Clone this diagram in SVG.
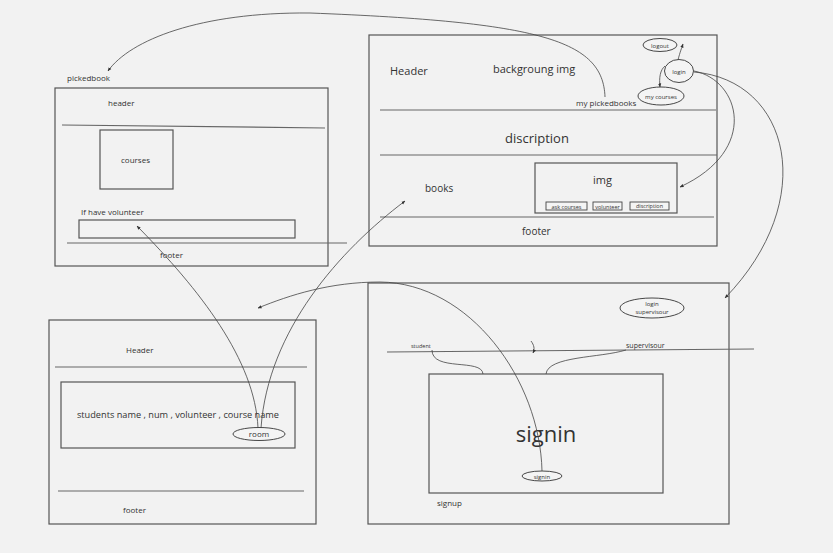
<svg xmlns="http://www.w3.org/2000/svg" width="833" height="553" viewBox="0 0 833 553">
<defs>
<marker id="ah" viewBox="0 0 10 10" refX="9" refY="5" markerWidth="5" markerHeight="5" orient="auto"><path d="M0,1 L10,5 L0,9 z" fill="#333"/></marker>
</defs>
<style>
.box{fill:none;stroke:#555;stroke-width:1.2}
.ln{fill:none;stroke:#666;stroke-width:1.2}
.cn{fill:none;stroke:#444;stroke-width:0.8}
.el{fill:#f4f4f4;stroke:#333;stroke-width:0.9}
text{font-family:"Open Sans","Liberation Sans",sans-serif;fill:#333}
.btn{fill:#f4f4f4;stroke:#444;stroke-width:0.9}
</style>
<rect width="833" height="553" fill="#f2f2f2"/>
<g id="pickedbook">
<text x="67" y="81" font-size="8">pickedbook</text>
<rect class="box" x="55" y="88" width="273" height="178"/>
<text x="108" y="106" font-size="8">header</text>
<line class="ln" x1="62" y1="125" x2="325" y2="128"/>
<rect class="box" x="100" y="130" width="73" height="59"/>
<text x="121" y="163" font-size="8">courses</text>
<text x="81" y="215" font-size="8">If have volunteer</text>
<rect class="box" x="79" y="220" width="216" height="18"/>
<line class="ln" x1="67" y1="243" x2="347" y2="243"/>
<text x="160" y="258" font-size="8">footer</text>
</g>
<g id="mainpage">
<rect class="box" x="369" y="35" width="348" height="211"/>
<text x="390" y="75" font-size="11">Header</text>
<text x="493" y="73" font-size="11">backgroung img</text>
<text x="576" y="106" font-size="8">my pickedbooks</text>
<line class="ln" x1="380" y1="110" x2="716" y2="110"/>
<text x="505" y="143" font-size="13">discription</text>
<line class="ln" x1="380" y1="155" x2="717" y2="155"/>
<text x="425" y="192" font-size="10">books</text>
<rect class="box" x="535" y="163" width="142" height="50"/>
<text x="593" y="184" font-size="11">img</text>
<rect class="btn" x="546" y="202" width="41" height="8"/>
<text x="566.5" y="208.5" font-size="5.5" text-anchor="middle">ask courses</text>
<rect class="btn" x="593" y="202" width="29" height="8"/>
<text x="607.5" y="208.5" font-size="5.5" text-anchor="middle">volunteer</text>
<rect class="btn" x="630" y="202" width="39" height="8"/>
<text x="649.5" y="208" font-size="5.5" text-anchor="middle" fill="#7a3030">discription</text>
<line class="ln" x1="380" y1="217" x2="714" y2="217"/>
<text x="522" y="235" font-size="10">footer</text>
</g>
<g id="logout"><ellipse class="el" cx="660" cy="45" rx="17" ry="6.5"/><text x="660" y="47.5" font-size="6" text-anchor="middle">logout</text></g>
<g id="login"><ellipse class="el" cx="679" cy="71" rx="14.5" ry="11.5"/><text x="679" y="73.5" font-size="6" text-anchor="middle">login</text></g>
<g id="mycourses"><ellipse class="el" cx="661" cy="96" rx="23" ry="9"/><text x="661" y="98.5" font-size="6" text-anchor="middle">my courses</text></g>
<g id="students">
<rect class="box" x="49" y="320" width="267" height="204"/>
<text x="126" y="353" font-size="8">Header</text>
<line class="ln" x1="55" y1="367" x2="307" y2="367"/>
<rect class="box" x="61" y="382" width="234" height="66"/>
<text x="178" y="418" font-size="9.2" text-anchor="middle">students name , num , volunteer , course name</text>
<text x="123" y="513" font-size="8">footer</text>
<line class="ln" x1="58" y1="491" x2="304" y2="491"/>
</g>
<g id="room"><ellipse class="el" cx="259" cy="434" rx="26" ry="6.5"/><text x="259" y="437" font-size="8" text-anchor="middle">room</text></g>
<g id="sign">
<rect class="box" x="368" y="283" width="361" height="241"/>
<line class="ln" x1="387" y1="352" x2="754" y2="349"/>
<text x="411" y="348" font-size="5.5">student</text>
<text x="626" y="348" font-size="7">supervisour</text>
<rect class="box" x="429" y="374" width="234" height="119"/>
<text x="546" y="442" font-size="22" text-anchor="middle">signin</text>
<text x="437" y="506" font-size="8">signup</text>
</g>
<g id="loginsupervisour"><ellipse class="el" cx="652" cy="308" rx="32" ry="10"/><text x="652" y="306" font-size="6" text-anchor="middle">login</text><text x="652" y="314" font-size="6" text-anchor="middle">supervisour</text></g>
<g id="signinbtn"><ellipse class="el" cx="542" cy="476" rx="20" ry="5"/><text x="542" y="478.5" font-size="6" text-anchor="middle">signin</text></g>
<g id="connectors">
<path class="cn" d="M605,97 C603,40 540,22 310,13 C200,12 130,40 108,71" marker-end="url(#ah)"/>
<path class="cn" d="M694,71 C740,80 760,150 680,187" marker-end="url(#ah)"/>
<path class="cn" d="M694,72 C790,80 820,200 725,298" marker-end="url(#ah)"/>
<path class="cn" d="M678,60 C680,52 682,47 683,44" marker-end="url(#ah)"/>
<path class="cn" d="M665,66 C660,70 659,78 660,87" marker-end="url(#ah)"/>
<path class="cn" d="M258,428 C255,360 200,290 137,226" marker-end="url(#ah)"/>
<path class="cn" d="M261,428 C268,330 340,250 405,201" marker-end="url(#ah)"/>
<path class="cn" d="M542,471 C540,380 470,283 380,282 C330,282 290,295 258,308" marker-end="url(#ah)"/>
<path class="cn" d="M531,341 C534,345 535,349 533,353" marker-end="url(#ah)"/>
<path class="cn" d="M432,350 C432,372 482,358 483,374"/>
<path class="cn" d="M626,350 C600,358 548,356 546,374"/>
</g>
</svg>
